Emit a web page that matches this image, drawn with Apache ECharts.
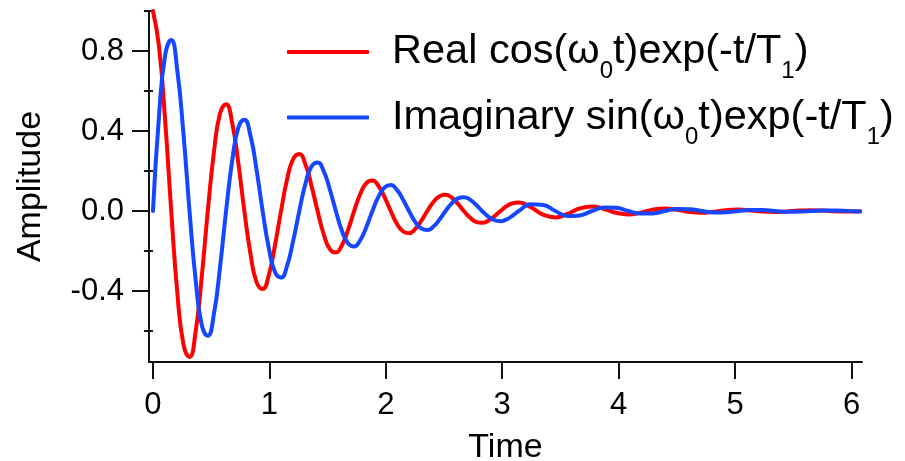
<!DOCTYPE html>
<html>
<head>
<meta charset="utf-8">
<script src="https://cdn.jsdelivr.net/npm/echarts@6/dist/echarts.min.js"></script>
<style>
html,body{margin:0;padding:0;background:#fff;}
#chart{width:905px;height:461px;}
</style>
</head>
<body>
<div id="chart"></div>
<script>
// Time samples
const timeVals = [0, 0.052, 0.105, 0.157, 0.209, 0.262, 0.314, 0.367, 0.419, 0.471,
  0.524, 0.576, 0.628, 0.681, 0.733, 0.785, 0.838, 0.890, 0.942, 0.995,
  1.047, 1.100, 1.152, 1.204, 1.257, 1.309, 1.361, 1.414, 1.466, 1.518,
  1.571, 1.623, 1.676, 1.728, 1.780, 1.833, 1.885, 1.937, 1.990, 2.042,
  2.094, 2.147, 2.199, 2.251, 2.304, 2.356, 2.409, 2.461, 2.513, 2.566,
  2.618, 2.670, 2.723, 2.775, 2.827, 2.880, 2.932, 2.985, 3.037, 3.089,
  3.142, 3.246, 3.351, 3.456, 3.560, 3.665, 3.770, 3.875, 3.979, 4.084,
  4.189, 4.294, 4.398, 4.503, 4.608, 4.712, 4.817, 4.922, 5.027, 5.131,
  5.236, 5.341, 5.445, 5.550, 5.655, 5.760, 5.864, 5.969, 6.074];

// Real part: red curve
const realVals = [1, 0.822, 0.450, 0, -0.406, -0.667, -0.730, -0.600, -0.329, 0,
  0.296, 0.487, 0.534, 0.438, 0.240, 0, -0.216, -0.356, -0.390, -0.320,
  -0.175, 0, 0.158, 0.260, 0.285, 0.234, 0.128, 0, -0.115, -0.190,
  -0.208, -0.171, -0.094, 0, 0.084, 0.139, 0.152, 0.125, 0.068, 0,
  -0.062, -0.101, -0.111, -0.091, -0.050, 0, 0.045, 0.074, 0.081, 0.067,
  0.037, 0, -0.033, -0.054, -0.059, -0.049, -0.027, 0, 0.024, 0.039,
  0.043, 0.019, -0.018, -0.032, -0.014, 0.013, 0.023, 0.010, -0.009, -0.017,
  -0.008, 0.007, 0.012, 0.006, -0.005, -0.009, -0.004, 0.004, 0.007, 0.003,
  -0.003, -0.005, -0.002, 0.002, 0.004, 0.002, -0.001, -0.003, -0.001];

// Imaginary part: blue curve
const imagVals = [0, 0.475, 0.780, 0.855, 0.702, 0.385, 0, -0.347, -0.570, -0.624,
  -0.513, -0.281, 0, 0.253, 0.416, 0.456, 0.375, 0.205, 0, -0.185,
  -0.304, -0.333, -0.274, -0.150, 0, 0.135, 0.222, 0.243, 0.200, 0.110,
  0, -0.099, -0.162, -0.178, -0.146, -0.080, 0, 0.072, 0.118, 0.130,
  0.107, 0.058, 0, -0.053, -0.087, -0.095, -0.078, -0.043, 0, 0.038,
  0.063, 0.069, 0.057, 0.031, 0, -0.028, -0.046, -0.051, -0.042, -0.023,
  0, 0.034, 0.030, 0, -0.025, -0.022, 0, 0.018, 0.016, 0,
  -0.013, -0.012, 0, 0.010, 0.009, 0, -0.007, -0.006, 0, 0.005,
  0.005, 0, -0.004, -0.003, 0, 0.003, 0.002, 0, -0.002];

const xTicks = [0, 1, 2, 3, 4, 5, 6];
const yMajorTicks = [-0.4, 0.0, 0.4, 0.8];
const yMinorTicks = [-0.6, -0.2, 0.2, 0.6, 1.0];
const seriesNames = ['Real cos(ω0t)exp(-t/T1)', 'Imaginary sin(ω0t)exp(-t/T1)'];
const legendRich = [
  '{g| }{a|Real cos(ω}{s|0}{a|t)exp(-t/T}{s|1}{a|)}',
  '{g| }{a|Imaginary sin(ω}{s|0}{a|t)exp(-t/T}{s|1}{a|)}'
];

const FONT = '"Liberation Sans", Arial, sans-serif';
const chart = echarts.init(document.getElementById('chart'), null, {renderer: 'canvas'});

function pairs(xs, ys) { return xs.map((x, i) => [x, ys[i]]); }

const axisLineStyle = {color: '#111', width: 2};

chart.setOption({
  animation: false,
  backgroundColor: '#fff',
  grid: {left: 149, right: 43, top: 11, bottom: 99, containLabel: false, outerBoundsMode: 'none'},
  legend: {
    orient: 'vertical',
    left: 287,
    top: 31,
    padding: 0,
    itemGap: 13,
    itemWidth: 82,
    itemHeight: 4,
    icon: 'roundRect',
    data: seriesNames,
    formatter: function (name) { return legendRich[seriesNames.indexOf(name)]; },
    textStyle: {
      color: '#000',
      fontFamily: FONT,
      rich: {
        g: {width: 18, fontSize: 41.5},
        a: {fontSize: 41.5, fontFamily: FONT, color: '#000'},
        s: {fontSize: 24, padding: [39, 0, 0, 0], fontFamily: FONT, color: '#000'}
      }
    }
  },
  xAxis: {
    type: 'value',
    min: -0.034,
    max: 6.09,
    name: 'Time',
    nameLocation: 'middle',
    nameGap: 69,
    nameTextStyle: {fontSize: 34, fontFamily: FONT, color: '#000'},
    axisLine: {show: true, onZero: false, lineStyle: axisLineStyle},
    axisTick: {show: true, inside: false, length: 17, lineStyle: axisLineStyle, customValues: xTicks},
    axisLabel: {fontSize: 31, fontFamily: FONT, color: '#000', margin: 28, customValues: xTicks},
    splitLine: {show: false}
  },
  yAxis: [{
    type: 'value',
    min: -0.755,
    max: 1.0,
    name: 'Amplitude',
    nameLocation: 'middle',
    nameGap: 101,
    nameTextStyle: {fontSize: 34, fontFamily: FONT, color: '#000'},
    axisLine: {show: true, onZero: false, lineStyle: axisLineStyle},
    axisTick: {show: true, inside: false, length: 17, lineStyle: axisLineStyle, customValues: yMajorTicks},
    axisLabel: {fontSize: 31, fontFamily: FONT, color: '#000', margin: 25, customValues: yMajorTicks,
      formatter: function (v) { return v.toFixed(1); }},
    splitLine: {show: false}
  }, {
    type: 'value',
    position: 'left',
    min: -0.755,
    max: 1.0,
    axisLine: {show: false},
    axisTick: {show: true, inside: false, length: 9, lineStyle: axisLineStyle, customValues: yMinorTicks},
    axisLabel: {show: false},
    splitLine: {show: false}
  }],
  series: [{
    name: seriesNames[0],
    type: 'line',
    data: pairs(timeVals, realVals),
    smooth: true,
    symbol: 'none',
    lineStyle: {color: '#ff0000', width: 4, cap: 'round', join: 'round'},
    itemStyle: {color: '#ff0000'},
    z: 2
  }, {
    name: seriesNames[1],
    type: 'line',
    data: pairs(timeVals, imagVals),
    smooth: true,
    symbol: 'none',
    lineStyle: {color: '#1447ff', width: 4, cap: 'round', join: 'round'},
    itemStyle: {color: '#1447ff'},
    z: 3
  }]
});
</script>
</body>
</html>
